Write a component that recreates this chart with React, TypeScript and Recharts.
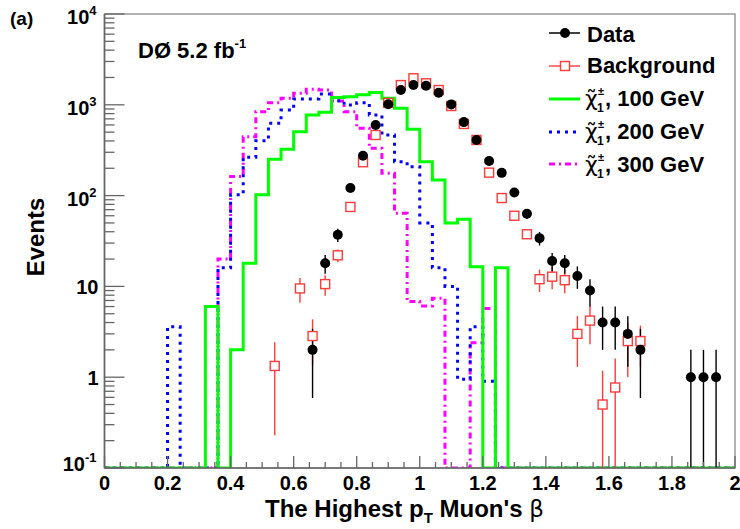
import { ComposedChart, Line, Scatter, XAxis, YAxis, ErrorBar, ReferenceArea } from 'recharts';

const FONT = '"Liberation Sans", Arial, Helvetica, sans-serif';
const Y_MIN = 0.1;
const BIN_W = 0.04;

// signal histograms, 50 bins of 0.04 from 0 to 2
const sig100 = [
  0, 0, 0, 0, 0, 0, 0, 0, 6, 0,
  2, 18, 102, 251, 324, 505, 773, 827, 1200, 1230,
  1290, 1370, 1180, 915, 537, 236, 149, 50, 55, 16.5,
  0, 16, 0, 0, 0, 0, 0, 0, 0, 0,
  0, 0, 0, 0, 0, 0, 0, 0, 0, 0,
];
const sig200 = [
  0, 0, 0, 0, 0, 3.6, 0, 0, 0, 16,
  102, 264, 403, 625, 877, 1158, 1160, 1315, 1110, 995,
  1054, 773, 465, 236, 208, 50, 16, 10, 0.95, 3.6,
  0.9, 0, 0, 0, 0, 0, 0, 0, 0, 0,
  0, 0, 0, 0, 0, 0, 0, 0, 0, 0,
];
const sig300 = [
  0, 0, 0, 0, 0, 0, 0, 0, 0, 20,
  162, 445, 840, 1054, 1180, 1339, 1483, 1455, 1100, 840,
  551, 332, 176, 64, 6.8, 6.1, 7.4, 0, 0, 2.4,
  5.7, 0, 0, 0, 0, 0, 0, 0, 0, 0,
  0, 0, 0, 0, 0, 0, 0, 0, 0, 0,
];

// data points (bin centres)
const dataX = [0.66, 0.7, 0.74, 0.78, 0.82, 0.86, 0.9, 0.94, 0.98, 1.02, 1.06, 1.1, 1.14, 1.18, 1.22,
  1.26, 1.3, 1.34, 1.38, 1.42, 1.46, 1.5, 1.54, 1.58, 1.62, 1.66, 1.7, 1.86, 1.9, 1.94];
const dataY = [2, 18, 37, 121, 275, 600, 1015, 1455, 1650, 1620, 1355, 1010, 645, 410, 240,
  178, 108, 63, 34, 19, 18, 13, 9, 4, 4, 3, 2, 1, 1, 1];
const dataErr = [1.41, 4.2, 6.1, 11, 16.6, 24.5, 31.9, 38, 40.6, 40.2, 36.8, 31.8, 25.4, 20.2, 15.5,
  13.3, 10.4, 7.9, 5.8, 4.4, 4.2, 3.6, 3, 2, 2, 1.7, 1.41, 1, 1, 1];

// background
const bgX = [0.54, 0.62, 0.66, 0.7, 0.74, 0.78, 0.82, 0.86, 0.9, 0.94, 0.98, 1.02, 1.06, 1.1, 1.14,
  1.18, 1.22, 1.26, 1.3, 1.34, 1.38, 1.42, 1.46, 1.5, 1.54, 1.58, 1.62, 1.66, 1.7];
const bgY = [1.33, 9.5, 2.84, 10.6, 22, 75, 233, 465, 1050, 1650, 1960, 1725, 1455, 970, 615,
  410, 179, 94, 60, 37.5, 12, 12.8, 11.7, 3.0, 4.2, 0.5, 0.77, 2.5, 2.5];
const bgErr = [1.1, 2.9, 1.5, 2.7, 3.5, 6, 10, 15, 20, 25, 28, 26, 24, 20, 15,
  12, 8, 6, 5, 4, 3.3, 3.5, 3.3, 1.7, 1.9, 0.68, 0.84, 1.5, 1.2];

const xTicks = Array.from({ length: 41 }, (_, i) => +(i * 0.05).toFixed(2));
const yTicks: number[] = [];
for (let e = -1; e <= 3; e++) for (let m = 1; m <= 9; m++) yTicks.push(+(m * Math.pow(10, e)).toPrecision(3));
yTicks.push(10000);

const histRows = Array.from({ length: 51 }, (_, i) => {
  const k = Math.min(i, 49);
  return {
    x: +(i * BIN_W).toFixed(2),
    s100: Math.max(sig100[k], Y_MIN),
    s200: Math.max(sig200[k], Y_MIN),
    s300: Math.max(sig300[k], Y_MIN),
  };
});

const withErr = (xs: number[], ys: number[], es: number[]) =>
  xs.map((x, i) => ({ x, y: ys[i], err: [ys[i] - Math.max(ys[i] - es[i], Y_MIN), es[i]] }));

const dataRows = withErr(dataX, dataY, dataErr);
const bgRows = withErr(bgX, bgY, bgErr);

const RED = '#ff3b3b';

function XTick(props: any) {
  const { x, y, payload } = props;
  const v = payload.value;
  const major = Math.abs(v / 0.2 - Math.round(v / 0.2)) < 1e-6;
  return (
    <g>
      <line x1={x} x2={x} y1={y} y2={y - (major ? 12 : 6)} stroke="#666" strokeWidth={1.3} />
      {major && (
        <text x={x} y={y + 22} textAnchor="middle" fontSize={20} fontWeight="bold" fontFamily={FONT} fill="#000">
          {String(v)}
        </text>
      )}
    </g>
  );
}

function YTick(props: any) {
  const { x, y, payload } = props;
  const lg = Math.log10(payload.value);
  const e = Math.round(lg);
  const major = Math.abs(lg - e) < 1e-6;
  let label = null;
  if (major) {
    if (e === 0 || e === 1) {
      label = (
        <text x={x - 6} y={y + 7.5} textAnchor="end" fontSize={20} fontWeight="bold" fontFamily={FONT} fill="#000">
          {e === 0 ? '1' : '10'}
        </text>
      );
    } else {
      label = (
        <text x={x - 8} y={y + (e === -1 ? 3 : 10)} textAnchor="end" fontSize={20} fontWeight="bold" fontFamily={FONT} fill="#000">
          10<tspan dy={-9} fontSize={13}>{e}</tspan>
        </text>
      );
    }
  }
  return (
    <g>
      <line x1={x} x2={x + (major ? 20 : 10)} y1={y} y2={y} stroke="#666" strokeWidth={1.3} />
      {label}
    </g>
  );
}

const dot = (p: any) => <circle cx={p.cx} cy={p.cy} r={5} fill="#000" />;
const square = (p: any) => (
  <rect x={p.cx - 4.5} y={p.cy - 4.5} width={9} height={9} fill="#fff" stroke={RED} strokeWidth={1.4} />
);

function ChiLabel({ y, mass }: { y: number; mass: string }) {
  return (
    <g>
      <text x={585} y={y} fontSize={22} fontFamily='"DejaVu Sans", sans-serif' fill="#000">{'\u03c7\u0303'}</text>
      <text x={598} y={y - 11} fontSize={11} fontWeight="bold" fontFamily={FONT} fill="#000">±</text>
      <text x={597} y={y + 6} fontSize={12} fontWeight="bold" fontFamily={FONT} fill="#000">1</text>
      <text x={605} y={y} fontSize={22} fontWeight="bold" fontFamily={FONT} fill="#000">{`, ${mass} GeV`}</text>
    </g>
  );
}

function Overlay() {
  const t = { fontFamily: FONT, fontWeight: 'bold' as const, fill: '#000' };
  return (
    <svg width={740} height={529} style={{ position: 'absolute', left: 0, top: 0, pointerEvents: 'none' }}>
      <text x={10} y={25} fontSize={19} {...t}>(a)</text>
      <text x={138} y={58} fontSize={22} {...t}>
        DØ 5.2 fb<tspan dy={-10} fontSize={13}>-1</tspan>
      </text>
      <text transform="translate(43.5,237) rotate(-90)" textAnchor="middle" fontSize={24} {...t}>Events</text>
      <text x={265} y={517} fontSize={24} {...t}>
        The Highest p<tspan dy={6} fontSize={15}>T</tspan>
        <tspan dy={-6}> Muon's </tspan>
        <tspan fontWeight="normal" fontFamily='"DejaVu Sans", sans-serif' fontSize={23}>β</tspan>
      </text>

      {/* legend */}
      <line x1={549} x2={580} y1={33} y2={33} stroke="#000" strokeWidth={1.5} />
      <circle cx={565} cy={33} r={5} fill="#000" />
      <text x={587} y={42} fontSize={22} {...t}>Data</text>

      <line x1={549} x2={580} y1={66} y2={66} stroke={RED} strokeWidth={1.4} />
      <rect x={560.5} y={61.5} width={9} height={9} fill="#fff" stroke={RED} strokeWidth={1.4} />
      <text x={587} y={73} fontSize={22} {...t}>Background</text>

      <line x1={549} x2={580} y1={99} y2={99} stroke="#00ff00" strokeWidth={3} />
      <ChiLabel y={106} mass="100" />
      <line x1={549} x2={580} y1={132} y2={132} stroke="#0000ff" strokeWidth={3} strokeDasharray="3 5" />
      <ChiLabel y={139} mass="200" />
      <line x1={549} x2={580} y1={164} y2={164} stroke="#ff00ff" strokeWidth={3} strokeDasharray="6 4 2 4" />
      <ChiLabel y={172} mass="300" />
    </svg>
  );
}

export default function App() {
  return (
    <div style={{ position: 'absolute', left: 0, top: 0, width: 740, height: 529, background: '#fff' }}>
      <ComposedChart width={740} height={529} margin={{ top: 14, right: 5, bottom: 0, left: 0 }}>
        <XAxis
          type="number"
          dataKey="x"
          domain={[0, 2]}
          allowDataOverflow
          ticks={xTicks}
          interval={0}
          tickSize={0}
          tickMargin={0}
          tickLine={false}
          height={61}
          axisLine={{ stroke: '#666', strokeWidth: 1.5 }}
          tick={(p: any) => <XTick {...p} />}
        />
        <YAxis
          type="number"
          scale="log"
          domain={[Y_MIN, 10000]}
          allowDataOverflow
          ticks={yTicks}
          interval={0}
          tickSize={0}
          tickMargin={0}
          tickLine={false}
          width={104.5}
          axisLine={{ stroke: '#666', strokeWidth: 1.5 }}
          tick={(p: any) => <YTick {...p} />}
        />
        <ReferenceArea x1={0} x2={2} y1={Y_MIN} y2={10000} fill="none" stroke="#999" strokeWidth={1.5} />
        <Line data={histRows} dataKey="s300" type="stepAfter" stroke="#ff00ff" strokeWidth={3}
          strokeDasharray="6 4 2 4" dot={false} isAnimationActive={false} />
        <Line data={histRows} dataKey="s200" type="stepAfter" stroke="#0000ff" strokeWidth={3}
          strokeDasharray="3 5" dot={false} isAnimationActive={false} />
        <Line data={histRows} dataKey="s100" type="stepAfter" stroke="#00ff00" strokeWidth={3}
          dot={false} isAnimationActive={false} />
        <Scatter data={bgRows} dataKey="y" shape={square} isAnimationActive={false}>
          <ErrorBar dataKey="err" direction="y" width={0} stroke={RED} strokeWidth={1.4} isAnimationActive={false} />
        </Scatter>
        <Scatter data={dataRows} dataKey="y" shape={dot} isAnimationActive={false}>
          <ErrorBar dataKey="err" direction="y" width={0} stroke="#000" strokeWidth={1.4} isAnimationActive={false} />
        </Scatter>
      </ComposedChart>
      <Overlay />
    </div>
  );
}
